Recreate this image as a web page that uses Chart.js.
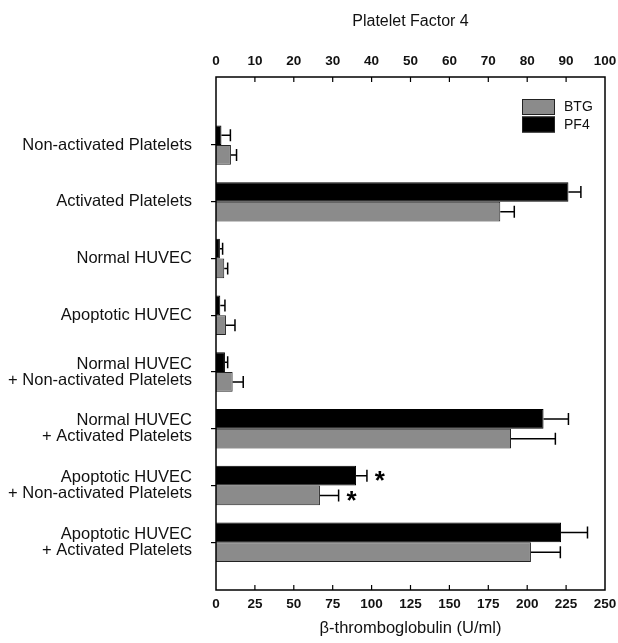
<!DOCTYPE html>
<html><head><meta charset="utf-8">
<script src="https://cdn.jsdelivr.net/npm/chart.js@4/dist/chart.umd.min.js"></script>
<style>html,body{margin:0;padding:0;background:#fff}</style>
</head><body>
<canvas id="c" width="618" height="643"></canvas>
<script>
const categories = [
  ["Non-activated Platelets"],
  ["Activated Platelets"],
  ["Normal HUVEC"],
  ["Apoptotic HUVEC"],
  ["Normal HUVEC", "+ Non-activated Platelets"],
  ["Normal HUVEC", "+ Activated Platelets"],
  ["Apoptotic HUVEC", "+ Non-activated Platelets"],
  ["Apoptotic HUVEC", "+ Activated Platelets"]
];
const btgValues = [9.6, 182.7, 5.3, 6.4, 10.7, 189.6, 66.8, 202.4];
const btgErrors = [3.6, 9.0, 2.2, 5.8, 6.8, 28.5, 12.0, 18.9];
const pf4Values = [1.4, 90.6, 1.0, 1.1, 2.3, 84.2, 36.0, 88.7];
const pf4Errors = [2.3, 3.2, 0.7, 1.2, 0.7, 6.4, 2.8, 6.8];
const significant = [false, false, false, false, false, false, true, false];
const btgTicks = [0, 25, 50, 75, 100, 125, 150, 175, 200, 225, 250];
const pf4Ticks = [0, 10, 20, 30, 40, 50, 60, 70, 80, 90, 100];

const FONT = "'Liberation Sans', Arial, Helvetica, sans-serif";
const GRAY = '#8b8b8b';

const decor = {
  id: 'decor',
  afterDatasetsDraw(chart) {
    const ctx = chart.ctx;
    const errs = [pf4Errors, btgErrors];
    const vals = [pf4Values, btgValues];
    ctx.save();
    ctx.strokeStyle = '#000';
    ctx.lineWidth = 1.5;
    chart.data.datasets.forEach((ds, di) => {
      const meta = chart.getDatasetMeta(di);
      const xs = chart.scales[ds.xAxisID];
      meta.data.forEach((bar, i) => {
        const x0 = xs.getPixelForValue(vals[di][i]);
        const x1 = xs.getPixelForValue(vals[di][i] + errs[di][i]);
        const y = bar.y;
        ctx.beginPath();
        ctx.moveTo(x0, y); ctx.lineTo(x1, y);
        ctx.moveTo(x1, y - 6); ctx.lineTo(x1, y + 6);
        ctx.stroke();
        if (significant[i]) {
          ctx.fillStyle = '#000';
          ctx.font = 'bold 26px ' + FONT;
          ctx.textAlign = 'center';
          ctx.textBaseline = 'middle';
          ctx.fillText('*', x1 + 13, y + 6);
        }
      });
    });
    ctx.restore();
  },
  afterDraw(chart) {
    const {ctx, chartArea: a, scales} = chart;
    ctx.save();
    ctx.strokeStyle = '#000';
    ctx.lineWidth = 1.5;
    ctx.strokeRect(a.left, a.top, a.right - a.left, a.bottom - a.top);
    ctx.lineWidth = 1.2;
    ctx.beginPath();
    pf4Ticks.slice(1, -1).forEach(v => {
      const x = scales.x2.getPixelForValue(v);
      ctx.moveTo(x, a.top); ctx.lineTo(x, a.top + 5);
    });
    btgTicks.slice(1, -1).forEach(v => {
      const x = scales.x.getPixelForValue(v);
      ctx.moveTo(x, a.bottom); ctx.lineTo(x, a.bottom - 5);
    });
    ctx.stroke();
    // legend
    const names = ['BTG', 'PF4'];
    const fills = [GRAY, '#000'];
    ctx.font = '14px ' + FONT;
    ctx.textAlign = 'left';
    ctx.textBaseline = 'middle';
    names.forEach((n, k) => {
      const bx = a.right - 83, by = a.top + 22 + k * 17.5;
      ctx.fillStyle = fills[k];
      ctx.fillRect(bx, by, 33, 16);
      ctx.lineWidth = 1;
      ctx.strokeStyle = '#222';
      ctx.strokeRect(bx + 0.5, by + 0.5, 32, 15);
      ctx.fillStyle = '#111';
      ctx.fillText(n, bx + 42, by + 8.5);
    });
    ctx.restore();
  }
};

new Chart(document.getElementById('c'), {
  type: 'bar',
  data: {
    datasets: [
      {
        label: 'PF4',
        data: pf4Values.map((v, i) => ({x: v, y: i})),
        xAxisID: 'x2', yAxisID: 'y',
        backgroundColor: '#000', borderColor: '#000', borderWidth: 1,
        categoryPercentage: 0.695, barPercentage: 1.0
      },
      {
        label: 'BTG',
        data: btgValues.map((v, i) => ({x: v, y: i})),
        xAxisID: 'x', yAxisID: 'y',
        backgroundColor: GRAY, borderColor: '#222', borderWidth: 1,
        categoryPercentage: 0.695, barPercentage: 1.0
      }
    ]
  },
  options: {
    indexAxis: 'y',
    responsive: false,
    animation: false,
    devicePixelRatio: 1,
    layout: {padding: {left: 0, right: 13, top: 0, bottom: 0}},
    plugins: {legend: {display: false}, tooltip: {enabled: false}},
    scales: {
      y: {
        type: 'linear',
        position: 'left',
        reverse: true,
        offset: false,
        min: -1.2,
        max: 7.84,
        afterBuildTicks: s => { s.ticks = categories.map((c, i) => ({value: i})); },
        afterFit: s => { s.width = 216; s.paddingTop = 0; s.paddingBottom = 0; },
        grid: {display: true, offset: false, drawOnChartArea: false, drawTicks: true, tickLength: 5, color: '#000', lineWidth: 1.2},
        border: {display: false},
        ticks: {
          callback: v => categories[v],
          padding: 19,
          color: '#111',
          font: {family: FONT, size: 16.5, lineHeight: 0.98}
        }
      },
      x: {
        type: 'linear',
        position: 'bottom',
        min: 0, max: 250,
        afterBuildTicks: s => { s.ticks = btgTicks.map(v => ({value: v})); },
        afterFit: s => { s.height = 53; s.paddingLeft = 0; s.paddingRight = 0; },
        grid: {display: false, drawTicks: false},
        border: {display: false},
        ticks: {padding: 6, color: '#111', font: {family: FONT, size: 13.5, weight: 'bold'}},
        title: {display: true, text: 'β-thromboglobulin (U/ml)', color: '#111',
                font: {family: FONT, size: 16.5}, padding: {top: 0, bottom: 5}}
      },
      x2: {
        type: 'linear',
        axis: 'x',
        position: 'top',
        min: 0, max: 100,
        afterBuildTicks: s => { s.ticks = pf4Ticks.map(v => ({value: v})); },
        afterFit: s => { s.height = 77; s.paddingLeft = 0; s.paddingRight = 0; },
        grid: {display: false, drawTicks: false},
        border: {display: false},
        ticks: {padding: 8, color: '#111', font: {family: FONT, size: 13.5, weight: 'bold'}},
        title: {display: true, text: 'Platelet Factor 4', color: '#111',
                font: {family: FONT, size: 16}, padding: {top: 12, bottom: 0}}
      }
    }
  },
  plugins: [decor]
});
</script>
</body></html>
